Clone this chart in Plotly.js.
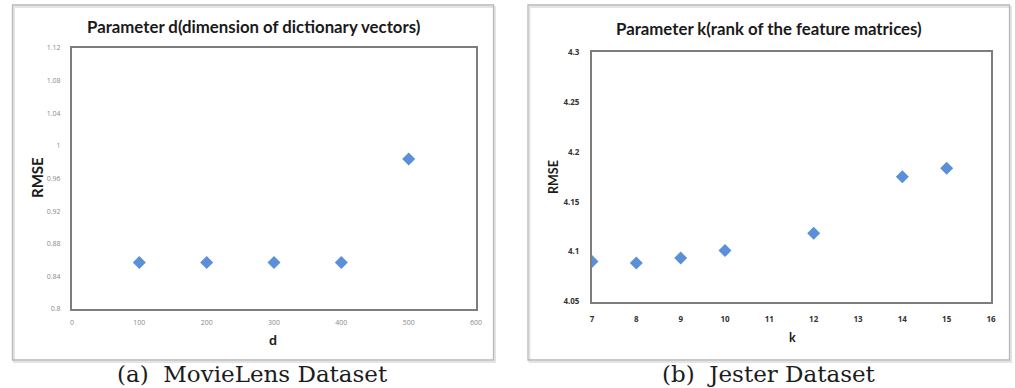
<!DOCTYPE html>
<html>
<head>
<meta charset="utf-8">
<script src="https://cdn.plot.ly/plotly-3.0.1.min.js"></script>
<style>
  html, body { margin: 0; padding: 0; background: #ffffff; }
  #chart { width: 1015px; height: 388px; }
</style>
</head>
<body>
<div id="chart"></div>
<script>
// (a) MovieLens: RMSE against d, the dimension of the dictionary vectors
const dValues = [100, 200, 300, 400, 500];
const rmseMovieLens = [0.857, 0.857, 0.857, 0.857, 0.984];
const dTicks = [0, 100, 200, 300, 400, 500, 600];
const rmseTicksA = [0.8, 0.84, 0.88, 0.92, 0.96, 1, 1.04, 1.08, 1.12];
const rmseTickTextA = ['0.8', '0.84', '0.88', '0.92', '0.96', '1', '1.04', '1.08', '1.12'];

// (b) Jester: RMSE against k, the rank of the feature matrices
const kValues = [7, 8, 9, 10, 12, 14, 15];
const rmseJester = [4.090, 4.0887, 4.0935, 4.101, 4.1185, 4.175, 4.1835];
const kTicks = [7, 8, 9, 10, 11, 12, 13, 14, 15, 16];
const rmseTicksB = [4.05, 4.1, 4.15, 4.2, 4.25, 4.3];
const rmseTickTextB = ['4.05', '4.1', '4.15', '4.2', '4.25', '4.3'];

const W = 1015, H = 388;
const px = x => x / W;          // pixel column -> paper x
const py = y => (H - y) / H;    // pixel row    -> paper y

const markerStyle = {
  symbol: 'diamond',
  size: 10,
  color: '#5b8fd8',
  line: { width: 0 }
};

const traces = [
  { x: dValues, y: rmseMovieLens, type: 'scatter', mode: 'markers',
    marker: markerStyle, xaxis: 'x', yaxis: 'y', hoverinfo: 'x+y' },
  { x: kValues, y: rmseJester, type: 'scatter', mode: 'markers',
    marker: markerStyle, xaxis: 'x2', yaxis: 'y2', hoverinfo: 'x+y' }
];

const frameAxis = {
  showline: true, mirror: true, linecolor: '#7d7d7d', linewidth: 2,
  showgrid: false, zeroline: false, ticks: '', fixedrange: true
};

const smallTick = { family: 'Open Sans, sans-serif', size: 7, color: '#8a8a8a' };
const boldTick = { family: 'Open Sans, sans-serif', size: 8, color: '#333333', weight: 700 };
const labelFont = (size) => ({ family: 'Lato, sans-serif', size: size, color: '#1a1a1a', weight: 700 });
const captionFont = { family: 'DejaVu Serif, serif', size: 23, color: '#1c1c1c' };

const layout = {
  width: W, height: H,
  margin: { l: 0, r: 0, t: 0, b: 0 },
  paper_bgcolor: '#ffffff',
  plot_bgcolor: '#ffffff',
  showlegend: false,
  xaxis: Object.assign({}, frameAxis, {
    domain: [px(72), px(476)], anchor: 'y',
    range: [0, 600], tickvals: dTicks, ticktext: dTicks.map(String),
    tickfont: smallTick, ticklabelstandoff: 6
  }),
  yaxis: Object.assign({}, frameAxis, {
    domain: [py(309), py(48)], anchor: 'x',
    range: [0.8, 1.12], tickvals: rmseTicksA, ticktext: rmseTickTextA,
    tickfont: smallTick, ticklabelstandoff: 8
  }),
  xaxis2: Object.assign({}, frameAxis, {
    domain: [px(592), px(991)], anchor: 'y2',
    range: [7, 16], tickvals: kTicks, ticktext: kTicks.map(String),
    tickfont: boldTick, ticklabelstandoff: 9
  }),
  yaxis2: Object.assign({}, frameAxis, {
    domain: [py(301.5), py(52)], anchor: 'x2',
    range: [4.05, 4.3], tickvals: rmseTicksB, ticktext: rmseTickTextB,
    tickfont: boldTick, ticklabelstandoff: 9
  }),
  shapes: [
    // outer chart-area boxes, with a faint drop shadow
    { type: 'rect', xref: 'paper', yref: 'paper',
      x0: px(14), x1: px(495), y0: py(362), y1: py(7),
      line: { color: '#e4e4e4', width: 2 } },
    { type: 'rect', xref: 'paper', yref: 'paper',
      x0: px(12.5), x1: px(493.5), y0: py(360), y1: py(5),
      line: { color: '#b8b8b8', width: 1.3 }, fillcolor: 'rgba(0,0,0,0)' },
    { type: 'rect', xref: 'paper', yref: 'paper',
      x0: px(529.5), x1: px(1011), y0: py(362), y1: py(7),
      line: { color: '#e4e4e4', width: 2 } },
    { type: 'rect', xref: 'paper', yref: 'paper',
      x0: px(528), x1: px(1009.5), y0: py(360), y1: py(5),
      line: { color: '#b8b8b8', width: 1.3 }, fillcolor: 'rgba(0,0,0,0)' }
  ],
  annotations: [
    { text: 'Parameter d(dimension of dictionary vectors)', xref: 'paper', yref: 'paper',
      x: px(253), y: py(27), xanchor: 'center', yanchor: 'middle', showarrow: false,
      font: labelFont(16.8) },
    { text: 'Parameter k(rank of the feature matrices)', xref: 'paper', yref: 'paper',
      x: px(769), y: py(29), xanchor: 'center', yanchor: 'middle', showarrow: false,
      font: labelFont(16.8) },
    { text: 'RMSE', xref: 'paper', yref: 'paper', textangle: -90,
      x: px(37), y: py(178), xanchor: 'center', yanchor: 'middle', showarrow: false,
      font: labelFont(15) },
    { text: 'RMSE', xref: 'paper', yref: 'paper', textangle: -90,
      x: px(553), y: py(177), xanchor: 'center', yanchor: 'middle', showarrow: false,
      font: labelFont(12.5) },
    { text: 'd', xref: 'paper', yref: 'paper',
      x: px(273), y: py(339), xanchor: 'center', yanchor: 'middle', showarrow: false,
      font: labelFont(14) },
    { text: 'k', xref: 'paper', yref: 'paper',
      x: px(792), y: py(337), xanchor: 'center', yanchor: 'middle', showarrow: false,
      font: labelFont(12.5) },
    { text: '(a)  MovieLens Dataset', xref: 'paper', yref: 'paper',
      x: px(252), y: py(374), xanchor: 'center', yanchor: 'middle', showarrow: false,
      font: captionFont },
    { text: '(b)  Jester Dataset', xref: 'paper', yref: 'paper',
      x: px(769), y: py(374), xanchor: 'center', yanchor: 'middle', showarrow: false,
      font: captionFont }
  ]
};

Plotly.newPlot('chart', traces, layout, { staticPlot: true, displayModeBar: false });
</script>
</body>
</html>
